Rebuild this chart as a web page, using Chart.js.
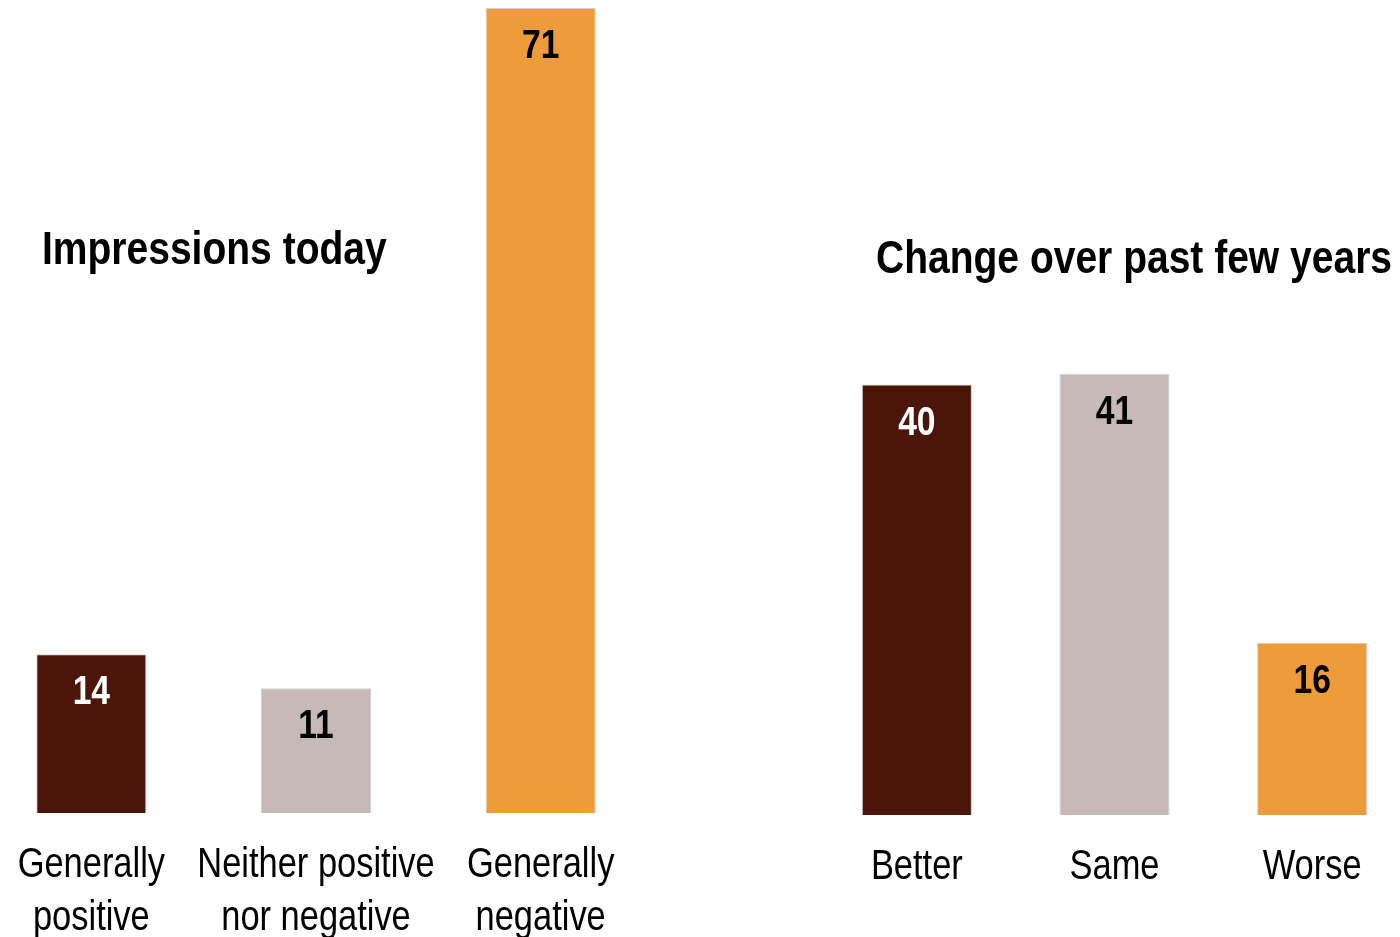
<!DOCTYPE html>
<html>
<head>
<meta charset="utf-8">
<title>Impressions today / Change over past few years</title>
<script src="https://cdn.jsdelivr.net/npm/chart.js@4/dist/chart.umd.min.js"></script>
<style>
  html, body { margin: 0; padding: 0; background: #fff; overflow: hidden; }
  body { width: 1400px; height: 937px; position: relative; }
  .box { position: absolute; top: 0; height: 937px; }
  #leftBox { left: -21px; width: 674px; }
  #rightBox { left: 818px; width: 593px; }
  .title {
    position: absolute; font-family: 'Liberation Sans', Arial, sans-serif;
    font-weight: bold; font-size: 47px; color: #000; white-space: nowrap; line-height: 1;
    transform: scaleX(0.83); transform-origin: 0 0;
  }
  #leftTitle { left: 42px; top: 224px; }
  #rightTitle { left: 876px; top: 233px; }
</style>
</head>
<body>
<div class="box" id="leftBox"><canvas id="today"></canvas></div>
<div class="box" id="rightBox"><canvas id="change"></canvas></div>
<div class="title" id="leftTitle">Impressions today</div>
<div class="title" id="rightTitle">Change over past few years</div>
<script>
const FONT = "'Liberation Sans', Arial, sans-serif";
const NARROW = 0.82; // squeeze Liberation Sans into a narrow face

const todayLabels = [['Generally', 'positive'], ['Neither positive', 'nor negative'], ['Generally', 'negative']];
const todayValues = [14, 11, 71];

const changeLabels = [['Better'], ['Same'], ['Worse']];
const changeValues = [40, 41, 16];

const barColors = ['#4b1509', '#c8b9b9', '#ee9b3b'];
const valueColors = ['#ffffff', '#000000', '#000000'];

function narrowText(ctx, text, x, y) {
  ctx.save();
  ctx.translate(x, y);
  ctx.scale(NARROW, 1);
  ctx.fillText(text, 0, 0);
  ctx.restore();
}

// value just inside the top of each bar, category names under the baseline
const barText = {
  id: 'barText',
  afterDatasetsDraw(chart) {
    const ctx = chart.ctx;
    const meta = chart.getDatasetMeta(0);
    const data = chart.data.datasets[0].data;
    const xScale = chart.scales.x;
    const base = chart.chartArea.bottom;
    ctx.save();
    ctx.textAlign = 'center';
    ctx.textBaseline = 'alphabetic';

    ctx.font = 'bold 41px ' + FONT;
    meta.data.forEach((bar, i) => {
      ctx.fillStyle = valueColors[i];
      narrowText(ctx, String(data[i]), bar.x, bar.y + 50);
    });

    ctx.font = '42px ' + FONT;
    ctx.fillStyle = '#000';
    chart.data.labels.forEach((lines, i) => {
      const x = xScale.getPixelForValue(i);
      lines.forEach((line, j) => {
        narrowText(ctx, line, x, base + 64 + j * 53);
      });
    });
    ctx.restore();
  }
};

function makeChart(id, labels, values, yMax, barPct, bottomPad) {
  return new Chart(document.getElementById(id), {
    type: 'bar',
    data: {
      labels: labels,
      datasets: [{
        data: values,
        backgroundColor: barColors,
        borderColor: '#d4d0d0',
        borderWidth: 1,
        categoryPercentage: 1,
        barPercentage: barPct
      }]
    },
    options: {
      responsive: true,
      maintainAspectRatio: false,
      animation: false,
      layout: { padding: { top: 8, left: 0, right: 0, bottom: bottomPad } },
      plugins: { legend: { display: false }, tooltip: { enabled: false } },
      scales: {
        x: {
          grid: { display: false },
          border: { display: false },
          ticks: { display: false }
        },
        y: {
          display: false,
          min: 0,
          max: yMax
        }
      }
    },
    plugins: [barText]
  });
}

makeChart('today', todayLabels, todayValues, 71, 0.49, 116);
makeChart('change', changeLabels, changeValues, 75, 0.557, 114);
</script>
</body>
</html>
